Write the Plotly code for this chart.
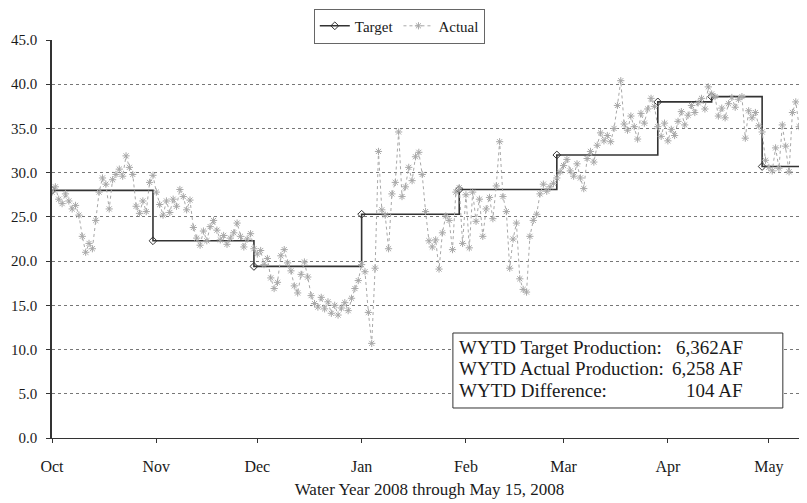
import pandas as pd
import plotly.graph_objects as go

# ---- Data ----
start_date = "2007-10-01"

actual_oct = [27.8, 28.4, 27.0, 26.5, 27.6, 26.8, 25.9, 26.3, 25.2, 22.8,
              21.0, 22.0, 21.4, 24.6, 27.8, 29.4, 28.7, 25.9, 29.2, 29.8,
              30.4, 29.6, 31.9, 30.6, 29.8, 26.2, 25.4, 26.8, 25.6, 28.9, 29.7]
actual_nov = [27.8, 26.4, 25.2, 26.8, 25.5, 27.0, 26.2, 28.1, 27.3, 25.8,
              26.9, 23.8, 22.6, 21.8, 23.4, 22.3, 23.9, 24.6, 23.5, 22.4,
              22.9, 21.9, 22.6, 23.2, 24.3, 22.8, 21.6, 22.5, 23.1, 21.4]
actual_dec = [20.8, 21.2, 19.6, 20.3, 18.1, 16.9, 17.6, 20.6, 21.3, 19.8,
              18.9, 17.2, 16.4, 18.5, 19.9, 18.2, 16.1, 15.2, 14.8, 15.9,
              14.6, 15.4, 14.1, 15.0, 13.9, 14.7, 15.3, 14.4, 15.8, 16.9, 17.8]
actual_jan = [19.6, 18.8, 14.2, 10.7, 19.2, 32.4, 25.8, 25.2, 21.4, 27.6,
              28.9, 34.6, 27.3, 28.4, 30.6, 29.1, 31.8, 32.3, 29.8, 25.6,
              22.3, 21.6, 22.4, 19.1, 23.2, 25.1, 24.6, 21.3, 27.8, 28.3, 22.0]
actual_feb = [27.5, 21.5, 27.8, 24.5, 27.0, 22.8, 25.9, 27.2, 24.8, 28.5,
              33.5, 27.3, 25.6, 19.2, 22.5, 24.3, 18.0, 16.8, 16.5, 22.8,
              24.6, 25.3, 27.6, 28.7, 27.9, 28.4, 28.8, 29.4, 30.1]
actual_mar = [30.8, 31.5, 30.2, 29.6, 31.0, 29.4, 28.2, 31.6, 32.4, 31.2,
              33.1, 34.5, 33.6, 34.2, 33.5, 35.0, 37.6, 40.4, 35.5, 34.8,
              36.4, 35.2, 33.8, 36.7, 35.6, 37.2, 38.4, 37.5, 35.2, 34.1, 35.6]
actual_apr = [33.6, 34.9, 34.2, 35.8, 36.9, 35.4, 36.5, 37.6, 36.8, 37.9,
              38.4, 37.2, 39.7, 38.9, 38.6, 36.4, 37.3, 36.2, 37.8, 38.5,
              37.4, 38.3, 38.6, 33.9, 37.0, 36.2, 36.8, 35.3, 34.6, 31.4]
actual_may = [30.6, 30.2, 32.8, 30.5, 35.4, 33.0, 30.1, 36.8, 38.0, 35.2,
              36.0, 34.5, 33.8, 35.6, 36.2]

target_dates = ["2007-10-01", "2007-10-31", "2007-11-30", "2008-01-01",
                "2008-01-30", "2008-02-28", "2008-03-29", "2008-04-14",
                "2008-04-29", "2008-05-15"]
target_values = [28.0, 22.3, 19.4, 25.3, 28.1, 32.0, 38.0, 38.6, 30.7, 30.7]

summary_labels = ["WYTD Target Production:", "WYTD Actual Production:", "WYTD Difference:"]
summary_values = ["6,362AF", "6,258 AF", "104 AF"]

x_title = "Water Year 2008 through May 15, 2008"

# ---- Build ----
actual = (actual_oct + actual_nov + actual_dec + actual_jan + actual_feb
          + actual_mar + actual_apr + actual_may)
actual_dates = pd.date_range(start_date, periods=len(actual), freq="D")

FONT = "Liberation Serif"

fig = go.Figure()
fig.add_trace(go.Scatter(
    x=target_dates, y=target_values, name="Target", mode="lines+markers",
    line=dict(color="#333333", width=1.6, shape="hv"),
    marker=dict(symbol="diamond-open", size=6, color="#333333", line=dict(width=1)),
))
fig.add_trace(go.Scatter(
    x=actual_dates, y=actual, name="Actual", mode="lines+markers",
    line=dict(color="#a8a8a8", width=1, dash="dot"),
    marker=dict(symbol="asterisk-open", size=6, color="#a8a8a8", line=dict(width=1, color="#a8a8a8")),
))

# summary box
fig.add_shape(type="rect", xref="paper", yref="paper",
              x0=0.531, x1=0.968, y0=0.0754, y1=0.2638,
              fillcolor="white", line=dict(color="#333", width=1), layer="above")
ys = [0.2286, 0.1734, 0.1181]
for lab, val, yy in zip(summary_labels, summary_values, ys):
    fig.add_annotation(xref="paper", yref="paper", x=0.536, y=yy, text=lab,
                       showarrow=False, xanchor="left", yanchor="middle",
                       font=dict(family=FONT, size=19, color="#1a1a1a"))
    fig.add_annotation(xref="paper", yref="paper", x=0.918, y=yy, text=val,
                       showarrow=False, xanchor="right", yanchor="middle",
                       font=dict(family=FONT, size=19, color="#1a1a1a"))

# the page adds an 8px body margin, so the figure is sized to fit the window
fig.update_layout(
    width=799, height=495,
    margin=dict(l=44, r=0, t=32, b=65, autoexpand=False),
    paper_bgcolor="white", plot_bgcolor="white",
    font=dict(family=FONT, size=15, color="#1a1a1a"),
    legend=dict(orientation="h", x=0.46, y=1.079, xanchor="center", yanchor="top",
                bordercolor="#666", borderwidth=1, bgcolor="white",
                font=dict(family=FONT, size=15), itemwidth=30,
                tracegroupgap=0),
    showlegend=True,
)
fig.update_xaxes(
    type="date", range=["2007-10-01", "2008-05-12 08:00"],
    tickformat="%b", dtick="M1", tick0="2007-10-01",
    ticks="outside", ticklen=4, tickcolor="#333",
    showgrid=False, showline=True, linecolor="#333", linewidth=1,
    tickfont=dict(family=FONT, size=16), ticklabelstandoff=10,
    automargin=False,
    title=dict(text=x_title, font=dict(family=FONT, size=17), standoff=7),
)
fig.update_yaxes(
    range=[0, 45], dtick=5, tickformat=".1f",
    ticks="outside", ticklen=4, tickcolor="#333",
    showgrid=True, gridcolor="#777", griddash="dot", gridwidth=1,
    zeroline=False, showline=True, linecolor="#333", linewidth=1.5,
    tickfont=dict(family=FONT, size=15), ticklabelstandoff=6,
    automargin=False,
)

fig.write_html("out.html")
